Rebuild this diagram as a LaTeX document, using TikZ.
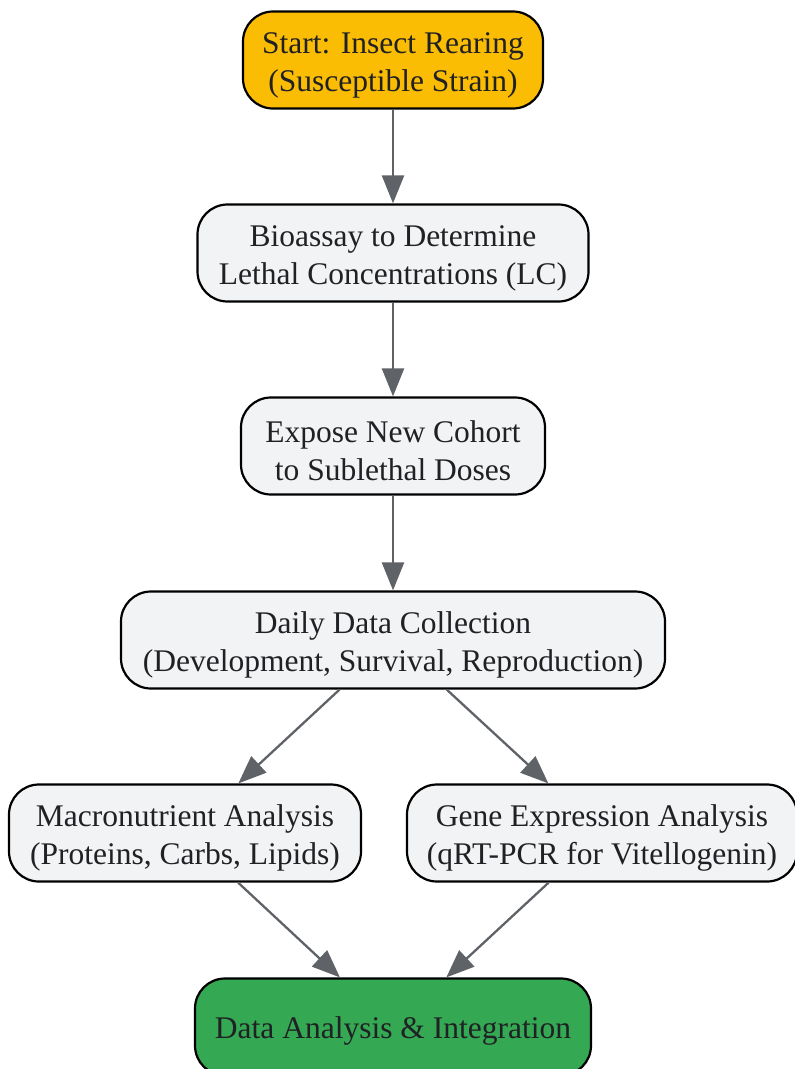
\documentclass[tikz,border=0pt]{standalone}
\usepackage{fontspec}
\setmainfont{Liberation Serif}
\usetikzlibrary{arrows.meta}
\definecolor{txt}{HTML}{202124}
\definecolor{edge}{HTML}{5F6368}
\definecolor{yel}{HTML}{FBBC04}
\definecolor{lgray}{HTML}{F1F3F4}
\definecolor{grn}{HTML}{34A853}
\tikzset{
  box/.style={draw=black, line width=2.2pt, rounded corners=30pt, fill=lgray,
    inner sep=0pt, minimum height=97pt},
  lbl/.style={text=txt, align=center, inner sep=0pt, yshift=-5pt,
    font=\fontsize{31.5pt}{38pt}\selectfont},
  conn/.style={draw=edge, line width=2.3pt, -{Triangle[length=28pt,width=22pt]}},
}
\begin{document}
\begin{tikzpicture}[x=1pt,y=-1pt]
\useasboundingbox (0,0) rectangle (795,1069);
\node[box, fill=yel, minimum width=300pt, label={[lbl]center:{Start: Insect Rearing\\(Susceptible Strain)}}] (start) at (393,60) {};
\node[box, minimum width=391pt, label={[lbl]center:{Bioassay to Determine\\Lethal Concentrations (LC)}}] (bio) at (393,253) {};
\node[box, minimum width=304pt, label={[lbl]center:{Expose New Cohort\\to Sublethal Doses}}] (expose) at (393,446) {};
\node[box, minimum width=544pt, label={[lbl]center:{Daily Data Collection\\(Development, Survival, Reproduction)}}] (daily) at (393,640) {};
\node[box, minimum width=352pt, label={[lbl]center:{Macronutrient Analysis\\(Proteins, Carbs, Lipids)}}] (macro) at (185,833) {};
\node[box, minimum width=390pt, label={[lbl]center:{Gene Expression Analysis\\(qRT-PCR for Vitellogenin)}}] (gene) at (602,833) {};
\node[box, fill=grn, minimum width=396pt, label={[lbl, yshift=1pt]center:{Data Analysis \& Integration}}] (data) at (393,1027) {};
\draw[conn] (start) -- (bio);
\draw[conn] (bio) -- (expose);
\draw[conn] (expose) -- (daily);
\draw[conn] (daily) -- (macro);
\draw[conn] (daily) -- (gene);
\draw[conn] (macro) -- (data);
\draw[conn] (gene) -- (data);
\end{tikzpicture}
\end{document}
